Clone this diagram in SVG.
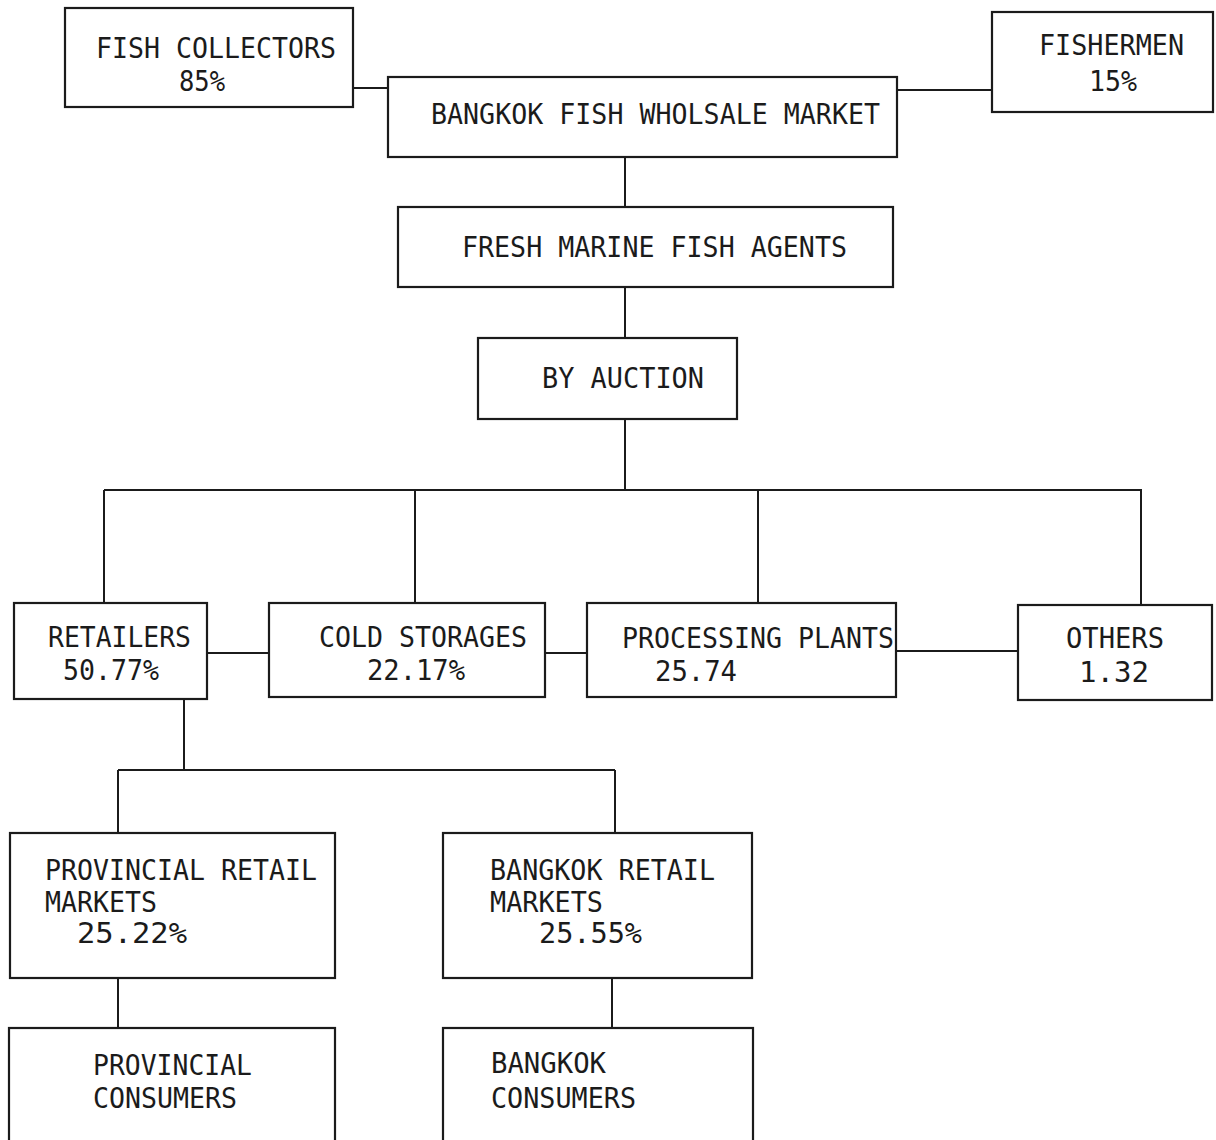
<svg xmlns="http://www.w3.org/2000/svg" width="1216" height="1140" viewBox="0 0 1216 1140">
  <style>
    .box { fill: none; stroke: #1b1b1b; stroke-width: 2.2; }
    .wire { fill: none; stroke: #1b1b1b; stroke-width: 2; }
    text { font-family: "DejaVu Sans Mono", "Liberation Mono", monospace; font-size: 29px; fill: #1b1b1b; }
  </style>
  <rect width="1216" height="1140" fill="#ffffff"/>

  <!-- connectors -->
  <g id="connectors" class="wire">
    <path d="M353 88 H388"/>
    <path d="M897 90 H992"/>
    <path d="M625 157 V207"/>
    <path d="M625 287 V338"/>
    <path d="M625 419 V490"/>
    <path d="M104 490 H1142"/>
    <path d="M104 490 V603"/>
    <path d="M415 490 V603"/>
    <path d="M758 490 V603"/>
    <path d="M1141 490 V605"/>
    <path d="M207 653 H270"/>
    <path d="M545 653 H587"/>
    <path d="M896 651 H1018"/>
    <path d="M184 699 V770"/>
    <path d="M118 770 H615"/>
    <path d="M118 770 V833"/>
    <path d="M615 770 V833"/>
    <path d="M118 978 V1028"/>
    <path d="M612 978 V1028"/>
  </g>

  <g id="fish-collectors">
    <rect class="box" x="65" y="8" width="288" height="99"/>
    <text x="96" y="58" textLength="240" lengthAdjust="spacingAndGlyphs">FISH COLLECTORS</text>
    <text x="179" y="91" textLength="46" lengthAdjust="spacingAndGlyphs">85%</text>
  </g>

  <g id="fishermen">
    <rect class="box" x="992" y="12" width="221" height="100"/>
    <text x="1039" y="55" textLength="145" lengthAdjust="spacingAndGlyphs">FISHERMEN</text>
    <text x="1089" y="91" textLength="48" lengthAdjust="spacingAndGlyphs">15%</text>
  </g>

  <g id="wholesale-market">
    <rect class="box" x="388" y="77" width="509" height="80"/>
    <text x="431" y="124" textLength="449" lengthAdjust="spacingAndGlyphs">BANGKOK FISH WHOLSALE MARKET</text>
  </g>

  <g id="fish-agents">
    <rect class="box" x="398" y="207" width="495" height="80"/>
    <text x="462" y="257" textLength="385" lengthAdjust="spacingAndGlyphs">FRESH MARINE FISH AGENTS</text>
  </g>

  <g id="auction">
    <rect class="box" x="478" y="338" width="259" height="81"/>
    <text x="542" y="388" textLength="162" lengthAdjust="spacingAndGlyphs">BY AUCTION</text>
  </g>

  <g id="retailers">
    <rect class="box" x="14" y="603" width="193" height="96"/>
    <text x="48" y="647" textLength="143" lengthAdjust="spacingAndGlyphs">RETAILERS</text>
    <text x="63" y="680" textLength="96" lengthAdjust="spacingAndGlyphs">50.77%</text>
  </g>

  <g id="cold-storages">
    <rect class="box" x="269" y="603" width="276" height="94"/>
    <text x="319" y="647" textLength="208" lengthAdjust="spacingAndGlyphs">COLD STORAGES</text>
    <text x="367" y="680" textLength="98" lengthAdjust="spacingAndGlyphs">22.17%</text>
  </g>

  <g id="processing-plants">
    <rect class="box" x="587" y="603" width="309" height="94"/>
    <text x="622" y="648" textLength="272" lengthAdjust="spacingAndGlyphs">PROCESSING PLANTS</text>
    <text x="655" y="681" textLength="82" lengthAdjust="spacingAndGlyphs">25.74</text>
  </g>

  <g id="others">
    <rect class="box" x="1018" y="605" width="194" height="95"/>
    <text x="1066" y="648" textLength="98" lengthAdjust="spacingAndGlyphs">OTHERS</text>
    <text x="1079" y="682" textLength="70" lengthAdjust="spacingAndGlyphs">1.32</text>
  </g>

  <g id="provincial-retail-markets">
    <rect class="box" x="10" y="833" width="325" height="145"/>
    <text x="45" y="880" textLength="272" lengthAdjust="spacingAndGlyphs">PROVINCIAL RETAIL</text>
    <text x="45" y="912" textLength="112" lengthAdjust="spacingAndGlyphs">MARKETS</text>
    <text x="77" y="943" textLength="110" lengthAdjust="spacingAndGlyphs">25.22%</text>
  </g>

  <g id="bangkok-retail-markets">
    <rect class="box" x="443" y="833" width="309" height="145"/>
    <text x="490" y="880" textLength="225" lengthAdjust="spacingAndGlyphs">BANGKOK RETAIL</text>
    <text x="490" y="912" textLength="113" lengthAdjust="spacingAndGlyphs">MARKETS</text>
    <text x="539" y="943" textLength="103" lengthAdjust="spacingAndGlyphs">25.55%</text>
  </g>

  <g id="provincial-consumers">
    <rect class="box" x="9" y="1028" width="326" height="130"/>
    <text x="93" y="1075" textLength="159" lengthAdjust="spacingAndGlyphs">PROVINCIAL</text>
    <text x="93" y="1108" textLength="144" lengthAdjust="spacingAndGlyphs">CONSUMERS</text>
  </g>

  <g id="bangkok-consumers">
    <rect class="box" x="443" y="1028" width="310" height="130"/>
    <text x="491" y="1073" textLength="115" lengthAdjust="spacingAndGlyphs">BANGKOK</text>
    <text x="491" y="1108" textLength="145" lengthAdjust="spacingAndGlyphs">CONSUMERS</text>
  </g>
</svg>
